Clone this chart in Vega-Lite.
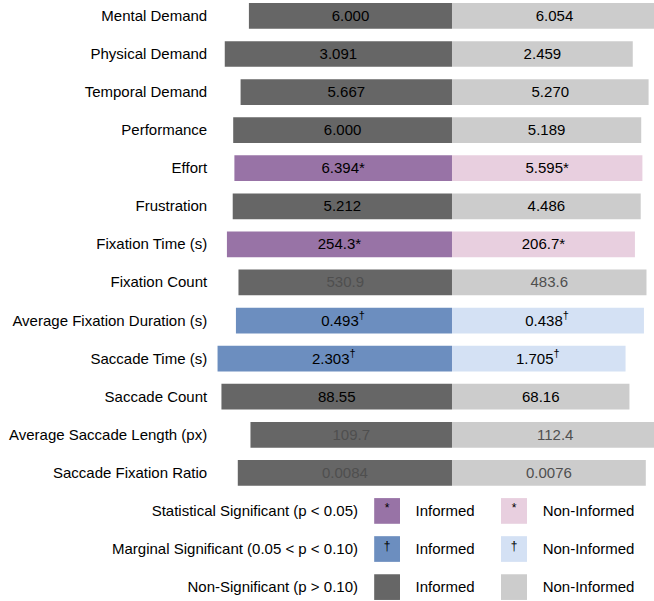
{
  "$schema": "https://vega.github.io/schema/vega-lite/v6.json",
  "width": 654,
  "height": 603,
  "padding": 0,
  "autosize": {"type": "none"},
  "background": "white",
  "config": {"view": {"stroke": null}, "text": {"font": "Liberation Sans", "fontSize": 15}},
  "datasets": {
    "bars": [
      {"measure": "Mental Demand", "group": "Informed", "value": 6.000, "label": "6.000", "sup": "", "sig": "none", "emph": "normal"},
      {"measure": "Mental Demand", "group": "Non-Informed", "value": 6.054, "label": "6.054", "sup": "", "sig": "none", "emph": "normal"},
      {"measure": "Physical Demand", "group": "Informed", "value": 3.091, "label": "3.091", "sup": "", "sig": "none", "emph": "normal"},
      {"measure": "Physical Demand", "group": "Non-Informed", "value": 2.459, "label": "2.459", "sup": "", "sig": "none", "emph": "normal"},
      {"measure": "Temporal Demand", "group": "Informed", "value": 5.667, "label": "5.667", "sup": "", "sig": "none", "emph": "normal"},
      {"measure": "Temporal Demand", "group": "Non-Informed", "value": 5.270, "label": "5.270", "sup": "", "sig": "none", "emph": "normal"},
      {"measure": "Performance", "group": "Informed", "value": 6.000, "label": "6.000", "sup": "", "sig": "none", "emph": "normal"},
      {"measure": "Performance", "group": "Non-Informed", "value": 5.189, "label": "5.189", "sup": "", "sig": "none", "emph": "normal"},
      {"measure": "Effort", "group": "Informed", "value": 6.394, "label": "6.394*", "sup": "", "sig": "sig", "emph": "normal"},
      {"measure": "Effort", "group": "Non-Informed", "value": 5.595, "label": "5.595*", "sup": "", "sig": "sig", "emph": "normal"},
      {"measure": "Frustration", "group": "Informed", "value": 5.212, "label": "5.212", "sup": "", "sig": "none", "emph": "normal"},
      {"measure": "Frustration", "group": "Non-Informed", "value": 4.486, "label": "4.486", "sup": "", "sig": "none", "emph": "normal"},
      {"measure": "Fixation Time (s)", "group": "Informed", "value": 254.3, "label": "254.3*", "sup": "", "sig": "sig", "emph": "normal"},
      {"measure": "Fixation Time (s)", "group": "Non-Informed", "value": 206.7, "label": "206.7*", "sup": "", "sig": "sig", "emph": "normal"},
      {"measure": "Fixation Count", "group": "Informed", "value": 530.9, "label": "530.9", "sup": "", "sig": "none", "emph": "dim"},
      {"measure": "Fixation Count", "group": "Non-Informed", "value": 483.6, "label": "483.6", "sup": "", "sig": "none", "emph": "dim"},
      {"measure": "Average Fixation Duration (s)", "group": "Informed", "value": 0.493, "label": "0.493", "sup": "†", "sig": "marg", "emph": "normal"},
      {"measure": "Average Fixation Duration (s)", "group": "Non-Informed", "value": 0.438, "label": "0.438", "sup": "†", "sig": "marg", "emph": "normal"},
      {"measure": "Saccade Time (s)", "group": "Informed", "value": 2.303, "label": "2.303", "sup": "†", "sig": "marg", "emph": "normal"},
      {"measure": "Saccade Time (s)", "group": "Non-Informed", "value": 1.705, "label": "1.705", "sup": "†", "sig": "marg", "emph": "normal"},
      {"measure": "Saccade Count", "group": "Informed", "value": 88.55, "label": "88.55", "sup": "", "sig": "none", "emph": "normal"},
      {"measure": "Saccade Count", "group": "Non-Informed", "value": 68.16, "label": "68.16", "sup": "", "sig": "none", "emph": "normal"},
      {"measure": "Average Saccade Length (px)", "group": "Informed", "value": 109.7, "label": "109.7", "sup": "", "sig": "none", "emph": "dim"},
      {"measure": "Average Saccade Length (px)", "group": "Non-Informed", "value": 112.4, "label": "112.4", "sup": "", "sig": "none", "emph": "dim"},
      {"measure": "Saccade Fixation Ratio", "group": "Informed", "value": 0.0084, "label": "0.0084", "sup": "", "sig": "none", "emph": "dim"},
      {"measure": "Saccade Fixation Ratio", "group": "Non-Informed", "value": 0.0076, "label": "0.0076", "sup": "", "sig": "none", "emph": "dim"}
    ],
    "legend": [
      {"measure": "Statistical Significant (p < 0.05)", "group": "Informed", "sig": "sig", "symbol": "*"},
      {"measure": "Statistical Significant (p < 0.05)", "group": "Non-Informed", "sig": "sig", "symbol": "*"},
      {"measure": "Marginal Significant (0.05 < p < 0.10)", "group": "Informed", "sig": "marg", "symbol": "†"},
      {"measure": "Marginal Significant (0.05 < p < 0.10)", "group": "Non-Informed", "sig": "marg", "symbol": "†"},
      {"measure": "Non-Significant (p > 0.10)", "group": "Informed", "sig": "none", "symbol": ""},
      {"measure": "Non-Significant (p > 0.10)", "group": "Non-Informed", "sig": "none", "symbol": ""}
    ]
  },
  "encoding": {
    "y": {
      "field": "measure",
      "type": "nominal",
      "axis": null,
      "scale": {
        "domain": ["Mental Demand", "Physical Demand", "Temporal Demand", "Performance", "Effort", "Frustration", "Fixation Time (s)", "Fixation Count", "Average Fixation Duration (s)", "Saccade Time (s)", "Saccade Count", "Average Saccade Length (px)", "Saccade Fixation Ratio", "Statistical Significant (p < 0.05)", "Marginal Significant (0.05 < p < 0.10)", "Non-Significant (p > 0.10)"],
        "paddingInner": 0.325,
        "paddingOuter": 0.08
      }
    }
  },
  "layer": [
    {
      "data": {"name": "bars"},
      "transform": [
        {"joinaggregate": [{"op": "sum", "field": "value", "as": "total"}], "groupby": ["measure"]},
        {"calculate": "datum.value / datum.total", "as": "share"},
        {"calculate": "datum.group == 'Informed' ? -datum.share : 0", "as": "x1"},
        {"calculate": "datum.group == 'Informed' ? 0 : datum.share", "as": "x2"},
        {"calculate": "(datum.x1 + datum.x2) / 2", "as": "xm"},
        {"calculate": "datum.sig + '-' + datum.group", "as": "key"}
      ],
      "layer": [
        {
          "mark": {"type": "bar"},
          "encoding": {
            "x": {"field": "x1", "type": "quantitative", "axis": null, "scale": {"domain": [-1.1078, 0.4951], "nice": false, "zero": false}},
            "x2": {"field": "x2"},
            "fill": {
              "field": "key",
              "type": "nominal",
              "legend": null,
              "scale": {
                "domain": ["sig-Informed", "sig-Non-Informed", "marg-Informed", "marg-Non-Informed", "none-Informed", "none-Non-Informed"],
                "range": ["#9873a6", "#e8cfdf", "#6c8ebf", "#d4e1f4", "#666666", "#cccccc"]
              }
            }
          }
        },
        {
          "transform": [{"filter": "datum.sup == ''"}],
          "mark": {"type": "text", "align": "center", "baseline": "middle"},
          "encoding": {
            "x": {"field": "xm", "type": "quantitative"},
            "text": {"field": "label"},
            "color": {"field": "emph", "type": "nominal", "legend": null, "scale": {"domain": ["normal", "dim"], "range": ["#000000", "#4f4f4f"]}}
          }
        },
        {
          "transform": [{"filter": "datum.sup != ''"}],
          "mark": {"type": "text", "align": "center", "baseline": "middle", "dx": -4, "color": "#000000"},
          "encoding": {
            "x": {"field": "xm", "type": "quantitative"},
            "text": {"field": "label"}
          }
        },
        {
          "transform": [{"filter": "datum.sup != ''"}],
          "mark": {"type": "text", "align": "left", "baseline": "middle", "dx": 14.8, "dy": -5, "fontSize": 11, "color": "#000000"},
          "encoding": {
            "x": {"field": "xm", "type": "quantitative"},
            "text": {"field": "sup"}
          }
        },
        {
          "transform": [{"filter": "datum.group == 'Informed'"}],
          "mark": {"type": "text", "align": "right", "baseline": "middle", "color": "#000000"},
          "encoding": {
            "x": {"datum": -0.6, "type": "quantitative"},
            "text": {"field": "measure"}
          }
        }
      ]
    },
    {
      "data": {"name": "legend"},
      "transform": [
        {"calculate": "datum.sig + '-' + datum.group", "as": "key"}
      ],
      "layer": [
        {
          "transform": [{"filter": "datum.group == 'Informed'"}],
          "mark": {"type": "text", "align": "right", "baseline": "middle", "color": "#000000"},
          "encoding": {
            "x": {"datum": -0.2304, "type": "quantitative"},
            "text": {"field": "measure"}
          }
        },
        {
          "transform": [{"filter": "datum.group == 'Informed'"}],
          "mark": {"type": "bar"},
          "encoding": {
            "x": {"datum": -0.1907, "type": "quantitative"},
            "x2": {"datum": -0.1275},
            "fill": {"field": "key", "type": "nominal", "legend": null}
          }
        },
        {
          "transform": [{"filter": "datum.group == 'Non-Informed'"}],
          "mark": {"type": "bar"},
          "encoding": {
            "x": {"datum": 0.1201, "type": "quantitative"},
            "x2": {"datum": 0.1838},
            "fill": {"field": "key", "type": "nominal", "legend": null}
          }
        },
        {
          "transform": [{"filter": "datum.group == 'Informed'"}],
          "mark": {"type": "text", "align": "center", "baseline": "middle", "fontSize": 12, "dy": -3, "color": "#000000"},
          "encoding": {
            "x": {"datum": -0.1591, "type": "quantitative"},
            "text": {"field": "symbol"}
          }
        },
        {
          "transform": [{"filter": "datum.group == 'Non-Informed'"}],
          "mark": {"type": "text", "align": "center", "baseline": "middle", "fontSize": 12, "dy": -3, "color": "#000000"},
          "encoding": {
            "x": {"datum": 0.152, "type": "quantitative"},
            "text": {"field": "symbol"}
          }
        },
        {
          "transform": [{"filter": "datum.group == 'Informed'"}],
          "mark": {"type": "text", "align": "left", "baseline": "middle", "color": "#000000"},
          "encoding": {
            "x": {"datum": -0.0895, "type": "quantitative"},
            "text": {"field": "group"}
          }
        },
        {
          "transform": [{"filter": "datum.group == 'Non-Informed'"}],
          "mark": {"type": "text", "align": "left", "baseline": "middle", "color": "#000000"},
          "encoding": {
            "x": {"datum": 0.2223, "type": "quantitative"},
            "text": {"field": "group"}
          }
        }
      ]
    }
  ],
  "resolve": {"scale": {"color": "independent"}}
}
